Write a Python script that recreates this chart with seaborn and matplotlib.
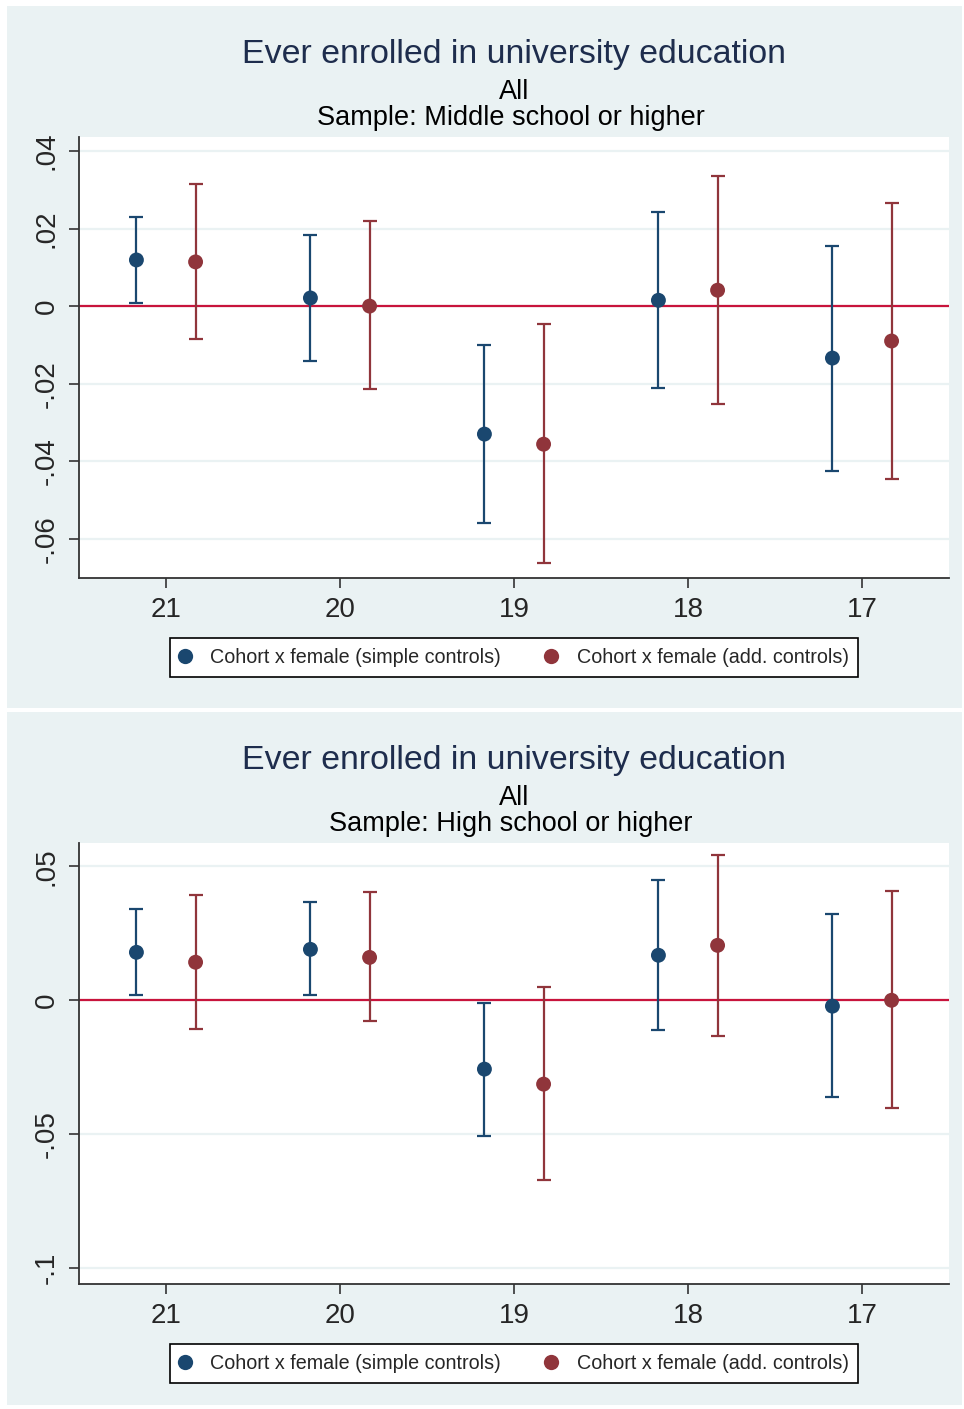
import matplotlib
matplotlib.use("Agg")
import matplotlib.pyplot as plt
from matplotlib.patches import Rectangle
import seaborn as sns
import pandas as pd

# Cohorts (x axis, reversed)
cohorts = [21, 20, 19, 18, 17]
models = ["Cohort x female (simple controls)", "Cohort x female (add. controls)"]

# Panel 1: Sample middle school or higher
mid_simple_coef = [0.0119, 0.0021, -0.0330, 0.0015, -0.0134]
mid_simple_lo = [0.0008, -0.0142, -0.0560, -0.0212, -0.0426]
mid_simple_hi = [0.0230, 0.0183, -0.0101, 0.0243, 0.0155]
mid_add_coef = [0.0114, 0.0000, -0.0356, 0.0041, -0.0090]
mid_add_lo = [-0.0085, -0.0214, -0.0663, -0.0253, -0.0446]
mid_add_hi = [0.0315, 0.0219, -0.0046, 0.0335, 0.0266]

# Panel 2: Sample high school or higher
high_simple_coef = [0.0179, 0.0190, -0.0257, 0.0168, -0.0022]
high_simple_lo = [0.0019, 0.0019, -0.0507, -0.0112, -0.0362]
high_simple_hi = [0.0340, 0.0366, -0.0011, 0.0448, 0.0321]
high_add_coef = [0.0142, 0.0160, -0.0313, 0.0205, 0.0000]
high_add_lo = [-0.0108, -0.0078, -0.0672, -0.0134, -0.0403]
high_add_hi = [0.0392, 0.0403, 0.0049, 0.0541, 0.0407]

title = "Ever enrolled in university education"
subtitle1 = "All"
samples = ["Sample: Middle school or higher", "Sample: High school or higher"]

mid_yticks = [0.04, 0.02, 0, -0.02, -0.04, -0.06]
mid_yticklabels = [".04", ".02", "0", "-.02", "-.04", "-.06"]
high_yticks = [0.05, 0, -0.05, -0.1]
high_yticklabels = [".05", "0", "-.05", "-.1"]

BG = "#eaf2f3"
NAVY = "#1a476f"
MAROON = "#90353b"
ZERO = "#c8143c"
TITLE_C = "#1e2d4d"

sns.set_style("ticks")
plt.rcParams["font.family"] = ["Liberation Sans", "DejaVu Sans"]

W, H = 964, 1409
fig = plt.figure(figsize=(W / 100, H / 100), dpi=100)
fig.patch.set_facecolor("white")


def fx(px):
    return px / W


def fy(py):
    return 1 - py / H


def make_df(s_coef, s_lo, s_hi, a_coef, a_lo, a_hi):
    rows = []
    for m, (c, lo, hi), off in [
        (models[0], (s_coef, s_lo, s_hi), 0.17),
        (models[1], (a_coef, a_lo, a_hi), -0.17),
    ]:
        for k in range(len(cohorts)):
            rows.append({"cohort": cohorts[k], "x": cohorts[k] + off, "coef": c[k],
                         "lo": lo[k], "hi": hi[k], "model": m})
    return pd.DataFrame(rows)


panels = [
    dict(df=make_df(mid_simple_coef, mid_simple_lo, mid_simple_hi, mid_add_coef, mid_add_lo, mid_add_hi),
         top=6, bottom=708, ax_top=137, ax_bot=578, ylim=(-0.0701, 0.0436),
         yticks=mid_yticks, ylabels=mid_yticklabels, sample=samples[0]),
    dict(df=make_df(high_simple_coef, high_simple_lo, high_simple_hi, high_add_coef, high_add_lo, high_add_hi),
         top=712, bottom=1405, ax_top=843, ax_bot=1284, ylim=(-0.1059, 0.0587),
         yticks=high_yticks, ylabels=high_yticklabels, sample=samples[1]),
]

palette = {models[0]: NAVY, models[1]: MAROON}

for p in panels:
    # panel background
    fig.patches.append(Rectangle((fx(7), fy(p["bottom"])), fx(962) - fx(7), fy(p["top"]) - fy(p["bottom"]),
                                 transform=fig.transFigure, facecolor=BG, edgecolor="none", zorder=-5))
    t0 = p["top"]
    fig.text(fx(514), fy(t0 + 48), title, ha="center", va="center", fontsize=24.4, color=TITLE_C)
    fig.text(fx(514), fy(t0 + 86), subtitle1, ha="center", va="center", fontsize=19.5, color="black")
    fig.text(fx(511), fy(t0 + 112), p["sample"], ha="center", va="center", fontsize=19.5, color="black")

    ax = fig.add_axes([fx(79), fy(p["ax_bot"]), fx(949) - fx(79), (p["ax_bot"] - p["ax_top"]) / H])
    ax.set_facecolor("white")
    df = p["df"]

    for y in p["yticks"]:
        ax.axhline(y, color=BG, lw=1.6, zorder=0)
    ax.axhline(0, color=ZERO, lw=1.6, zorder=1)

    for m in models:
        sub = df[df["model"] == m]
        ax.errorbar(sub["x"], sub["coef"], yerr=[sub["coef"] - sub["lo"], sub["hi"] - sub["coef"]],
                    fmt="none", ecolor=palette[m], elinewidth=1.6, capsize=5, capthick=1.6, zorder=2)
    sns.scatterplot(data=df, x="x", y="coef", hue="model", palette=palette, s=115,
                    edgecolor="none", ax=ax, zorder=3, legend=True)

    ax.set_xlim(21.5, 16.5)
    ax.set_ylim(*p["ylim"])
    ax.set_xticks(cohorts)
    ax.set_xticklabels([str(c) for c in cohorts], fontsize=20)
    ax.set_yticks(p["yticks"])
    ax.set_yticklabels(p["ylabels"], fontsize=20, rotation=90, va="center")
    ax.set_xlabel("")
    ax.set_ylabel("")
    ax.tick_params(axis="both", direction="out", length=7, width=1.2, color="#333333", pad=7)
    for s in ["top", "right"]:
        ax.spines[s].set_visible(False)
    for s in ["left", "bottom"]:
        ax.spines[s].set_color("#333333")
        ax.spines[s].set_linewidth(1.3)

    handles, labels = ax.get_legend_handles_labels()
    for h in handles:
        h.set_markersize(11)
    leg = ax.legend(handles, labels, loc="upper center", bbox_to_anchor=(0.5, -0.136), ncol=2,
                    frameon=True, fancybox=False, framealpha=1, edgecolor="black", fontsize=14.2,
                    handletextpad=1.0, columnspacing=2.3, borderpad=0.5, handlelength=0.55,
                    borderaxespad=0)
    leg.get_frame().set_linewidth(1.2)

fig.savefig("out.png", dpi=100, facecolor="white")
